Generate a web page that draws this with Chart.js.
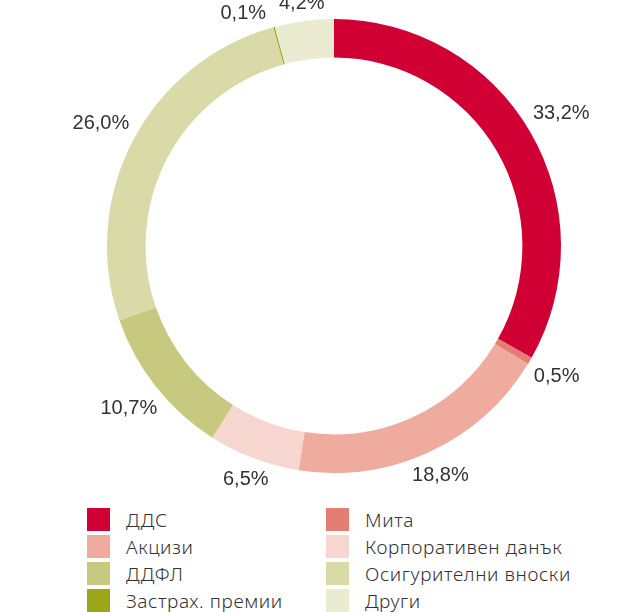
<!DOCTYPE html>
<html lang="bg">
<head>
<meta charset="utf-8">
<script src="https://cdn.jsdelivr.net/npm/chart.js@4.4.1/dist/chart.umd.min.js"></script>
<style>
  html, body { margin: 0; padding: 0; background: #fff; }
  #wrap { position: relative; width: 635px; height: 612px; overflow: hidden; }
  #revenueChart { position: absolute; left: 0; top: 0; }
  #legend {
    position: absolute; left: 87px; top: 508px;
    display: grid; grid-template-columns: 239px 260px; row-gap: 4px;
    font-family: "Noto Sans", sans-serif; font-weight: 300; font-size: 19px;
    letter-spacing: 0.6px; color: #333;
  }
  #legend .item { display: flex; align-items: center; height: 23px; }
  #legend .box { width: 23px; height: 23px; margin-right: 16px; flex: none; }
</style>
</head>
<body>
<div id="wrap">
  <canvas id="revenueChart" width="635" height="500"></canvas>
  <div id="legend"></div>
</div>
<script>
// --- данни ---
const categories = ['ДДС', 'Мита', 'Акцизи', 'Корпоративен данък', 'ДДФЛ',
                    'Осигурителни вноски', 'Застрах. премии', 'Други'];
const shares = [33.2, 0.5, 18.8, 6.5, 10.7, 26.0, 0.1, 4.2];
const colors = ['#D10034', '#E47D72', '#EEAB9E', '#F8D6D0', '#C7C97E',
                '#DAD9A8', '#9CA61B', '#EBEBD2'];

// етикети с проценти около пръстена
const outerLabels = {
    id: 'outerLabels',
    afterDatasetsDraw(chart) {
        const ctx = chart.ctx;
        const meta = chart.getDatasetMeta(0);
        ctx.save();
        ctx.font = '20px "Liberation Sans", Arial, sans-serif';
        ctx.fillStyle = '#333';
        ctx.textAlign = 'center';
        ctx.textBaseline = 'middle';
        const h = 14, gap = 8;
        const boxes = [];
        meta.data.forEach(function(arc, i) {
            const p = arc.getProps(['x', 'y', 'startAngle', 'endAngle', 'outerRadius'], true);
            const txt = shares[i].toFixed(1).replace('.', ',') + '%';
            const w = ctx.measureText(txt).width;
            boxes.push({ txt: txt, w: w, cx: p.x, cy: p.y, outer: p.outerRadius,
                         a: (p.startAngle + p.endAngle) / 2 });
        });
        // центърът на етикета е така, че кутията му да е на gap px от пръстена
        function place(b) {
            const c = Math.cos(b.a), s = Math.sin(b.a);
            const r = b.outer + gap + Math.abs(c) * b.w / 2 + Math.abs(s) * h / 2;
            b.x = b.cx + c * r;
            b.y = b.cy + s * r;
        }
        function overlaps(b1, b2) {
            return Math.abs(b1.x - b2.x) < (b1.w + b2.w) / 2 + 12 && Math.abs(b1.y - b2.y) < h;
        }
        boxes.forEach(place);
        // ако два етикета се застъпват, отместваме по-ранния назад по окръжността
        for (let i = boxes.length - 2; i >= 0; i--) {
            let n = 0;
            while (overlaps(boxes[i], boxes[i + 1]) && n < 80) {
                boxes[i].a -= Math.PI / 360;
                place(boxes[i]);
                n++;
            }
        }
        boxes.forEach(function(b) { ctx.fillText(b.txt, b.x, b.y); });
        ctx.restore();
    }
};

const chart = new Chart(document.getElementById('revenueChart'), {
    type: 'doughnut',
    data: {
        labels: categories,
        datasets: [{
            data: shares,
            backgroundColor: colors,
            borderWidth: 0
        }]
    },
    options: {
        responsive: false,
        animation: false,
        cutout: '83%',
        layout: { padding: { top: 19, bottom: 27, left: 107, right: 74 } },
        plugins: {
            legend: { display: false },
            tooltip: { enabled: false }
        }
    },
    plugins: [outerLabels]
});

// легенда в две колони
const legendEl = document.getElementById('legend');
chart.data.labels.forEach(function(name, i) {
    const item = document.createElement('div');
    item.className = 'item';
    const box = document.createElement('span');
    box.className = 'box';
    box.style.background = colors[i];
    const txt = document.createElement('span');
    txt.textContent = name;
    item.appendChild(box);
    item.appendChild(txt);
    legendEl.appendChild(item);
});
</script>
</body>
</html>
